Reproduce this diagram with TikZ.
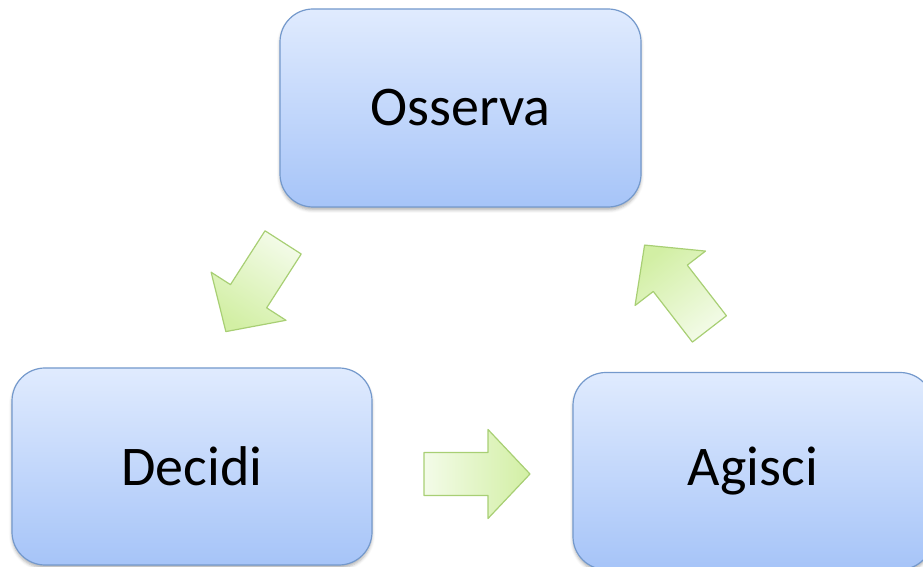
\documentclass[tikz,border=0pt]{standalone}
\usepackage{fontspec}
\setmainfont{Carlito}
\usetikzlibrary{shadows.blur}
\definecolor{boxtop}{HTML}{E0EBFE}
\definecolor{boxbot}{HTML}{A6C4F8}
\definecolor{boxline}{HTML}{7499CC}
\definecolor{arrlight}{HTML}{F3FBE8}
\definecolor{arrdark}{HTML}{D2EFA4}
\definecolor{arrline}{HTML}{A8CF74}
\tikzset{
  stage/.style={draw=boxline, line width=1.2pt, rounded corners=33pt,
    top color=boxtop, bottom color=boxbot,
    minimum width=360pt, minimum height=197pt,
    font=\fontsize{56}{60}\selectfont,
    blur shadow={shadow xshift=0pt, shadow yshift=-3pt,
      shadow blur radius=3pt, shadow opacity=30}},
  arrowbody/.style={draw=arrline, line width=1.2pt, line join=round,
    left color=arrlight, right color=arrdark},
  % block arrow pointing along +x; the argument turns the shading
  % so that it runs from the tail (light) to the head (darker)
  blockarrow/.pic={
    \path[arrowbody, shading angle=#1] (-53,21.5) -- (11,21.5) -- (11,44.5) -- (53,0)
      -- (11,-44.5) -- (11,-21.5) -- (-53,-21.5) -- cycle;
  }
}
\begin{document}
\begin{tikzpicture}[x=1pt,y=1pt]
  \useasboundingbox (0,0) rectangle (923,567);
  % the three stages of the cycle
  \node[stage, minimum width=361pt, minimum height=198pt] (oss) at (460.5,459) {Osserva};
  \node[stage] (dec) at (192,100.5) {Decidi};
  \node[stage] (agi) at (753,96) {Agisci};
  % block arrows between the stages
  \pic[rotate=237.3] at (254.5,280) {blockarrow=327.3};
  \pic at (477,93) {blockarrow=90};
  \pic[rotate=127.7] at (677,280) {blockarrow=217.7};
\end{tikzpicture}
\end{document}
